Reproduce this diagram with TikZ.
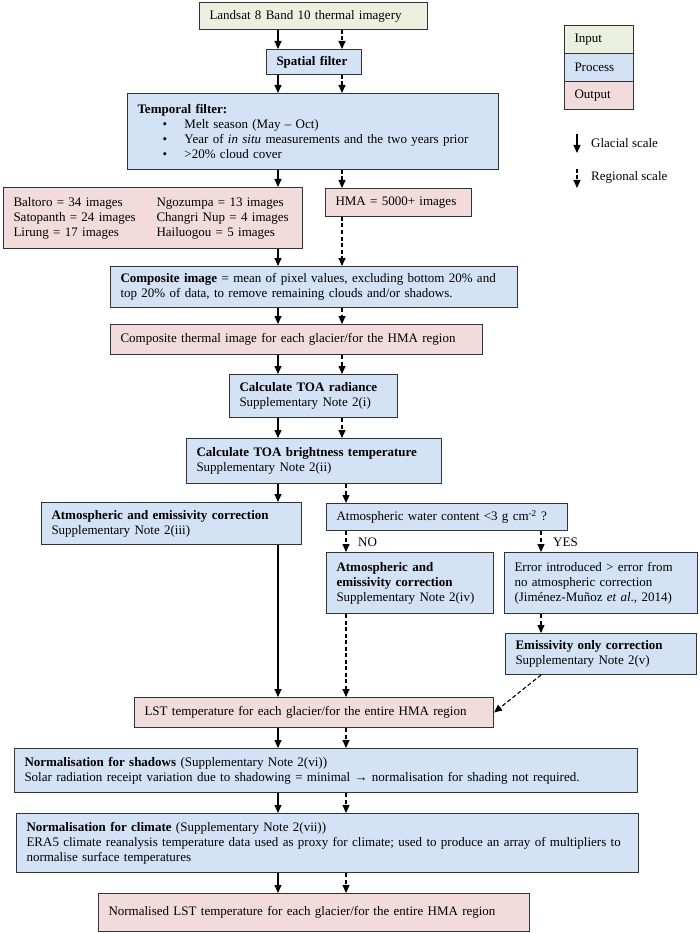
\documentclass[tikz,border=0pt]{standalone}
\usepackage{fontspec}
\setmainfont{Liberation Serif}
\usetikzlibrary{arrows.meta}
\definecolor{cin}{HTML}{EBF1DE}
\definecolor{cproc}{HTML}{D3E2F4}
\definecolor{cout}{HTML}{F2DCDB}
\definecolor{cedge}{HTML}{333333}
\tikzset{
  base/.style={draw=cedge, line width=1pt, anchor=north west, inner xsep=10pt, inner ysep=0pt,
    align=left, font=\fontsize{13}{15}\selectfont},
  inbox/.style={base, fill=cin},
  procbox/.style={base, fill=cproc},
  outbox/.style={base, fill=cout},
  sz/.style 2 args={minimum width=#1pt, minimum height=#2pt,
    /utils/exec={\pgfmathsetmacro\boxtw{#1-20}}, text width=\boxtw pt},
  lbl/.style={inner sep=0pt, anchor=west, font=\fontsize{13}{15}\selectfont},
  arr/.style={line width=1.1pt, -{Triangle[length=8pt,width=7pt]}},
  darr/.style={arr, dash pattern=on 4pt off 2.5pt},
}
\newcommand{\bul}{\hspace*{25pt}\makebox[22pt][l]{•}}
\newcommand{\colA}[1]{\makebox[143pt][l]{#1}}
\begin{document}
\begin{tikzpicture}[x=1pt,y=-1pt]
\useasboundingbox[fill=white] (0,0) rectangle (699,933);

% legend
\node[inbox, sz={69}{28}] (lin) at (564,25) {Input};
\node[procbox, sz={69}{28}] (lproc) at (564,53) {Process};
\node[outbox, sz={69}{28}] (lout) at (564,81) {Output};
\coordinate (g1) at (577,134); \coordinate (g2) at (577,153);
\coordinate (r1) at (577,169); \coordinate (r2) at (577,188);
\draw[arr] (g1) -- (g2);
\draw[darr] (r1) -- (r2);
\node[lbl] (glab) at (591,143) {Glacial scale};
\node[lbl] (rlab) at (591,177) {Regional scale};

% main boxes
\node[inbox, sz={228}{27}] (land) at (199,2) {Landsat 8 Band 10 thermal imagery};
\node[procbox, sz={95}{25}] (spatial) at (266,49) {\textbf{Spatial filter}};
\node[procbox, sz={371}{76}] (temporal) at (127,93) {\textbf{Temporal filter:}\\
\bul Melt season (May – Oct)\\
\bul Year of \textit{in situ} measurements and the two years prior\\
\bul >20\% cloud cover};
\node[outbox, sz={299}{61}] (balt) at (3,187) {\colA{Baltoro = 34 images}Ngozumpa = 13 images\\
\colA{Satopanth = 24 images}Changri Nup = 4 images\\
\colA{Lirung = 17 images}Hailuogou = 5 images};
\node[outbox, sz={146}{28}] (hma) at (325,188) {HMA = 5000+ images};
\node[procbox, sz={407}{41}] (comp) at (110,266) {\textbf{Composite image} = mean of pixel values, excluding bottom 20\% and\\
top 20\% of data, to remove remaining clouds and/or shadows.};
\node[outbox, sz={372}{30}] (compth) at (110,324) {Composite thermal image for each glacier/for the HMA region};
\node[procbox, sz={168}{43}] (toarad) at (229,374) {\textbf{Calculate TOA radiance}\\Supplementary Note 2(i)};
\node[procbox, sz={255}{45}] (toabt) at (186,438) {\textbf{Calculate TOA brightness temperature}\\Supplementary Note 2(ii)};
\node[procbox, sz={260}{42}] (leftatm) at (41,502) {\textbf{Atmospheric and emissivity correction}\\Supplementary Note 2(iii)};
\node[procbox, sz={241}{27}] (water) at (326,503) {Atmospheric water content <3 g cm\textsuperscript{-2} ?};
\node[procbox, sz={167}{61}] (atmiv) at (326,552) {\textbf{Atmospheric and}\\\textbf{emissivity correction}\\Supplementary Note 2(iv)};
\node[procbox, sz={193}{61}] (err) at (504,552) {Error introduced > error from\\no atmospheric correction\\(Jiménez-Muñoz \textit{et al}., 2014)};
\node[procbox, sz={191}{41}] (emis) at (505,633) {\textbf{Emissivity only correction}\\Supplementary Note 2(v)};
\node[outbox, sz={359}{30}] (lst) at (134,697) {LST temperature for each glacier/for the entire HMA region};
\node[procbox, sz={623}{44}] (shadow) at (14,748) {\textbf{Normalisation for shadows} (Supplementary Note 2(vi))\\
Solar radiation receipt variation due to shadowing = minimal → normalisation for shading not required.};
\node[procbox, sz={622}{59}] (climate) at (16,813) {\textbf{Normalisation for climate} (Supplementary Note 2(vii))\\
ERA5 climate reanalysis temperature data used as proxy for climate; used to produce an array of multipliers to\\
normalise surface temperatures};
\node[outbox, sz={431}{38}] (final) at (98,893) {Normalised LST temperature for each glacier/for the entire HMA region};

\node[lbl] (no) at (358,542) {NO};
\node[lbl] (yes) at (553,542) {YES};

% connectors
\coordinate (cs) at (278,0);
\coordinate (cd) at (342,0);
\coordinate (ce) at (346,0);
\coordinate (cy) at (541,0);
\draw[arr] (cs |- land.south) -- (cs |- spatial.north);
\draw[darr] (cd |- land.south) -- (cd |- spatial.north);
\draw[arr] (cs |- spatial.south) -- (cs |- temporal.north);
\draw[darr] (cd |- spatial.south) -- (cd |- temporal.north);
\draw[arr] (cs |- temporal.south) -- (cs |- balt.north);
\draw[darr] (cd |- temporal.south) -- (cd |- hma.north);
\draw[arr] (cs |- balt.south) -- (cs |- comp.north);
\draw[darr] (cd |- hma.south) -- (cd |- comp.north);
\draw[arr] (cs |- comp.south) -- (cs |- compth.north);
\draw[darr] (cd |- comp.south) -- (cd |- compth.north);
\draw[arr] (cs |- compth.south) -- (cs |- toarad.north);
\draw[darr] (cd |- compth.south) -- (cd |- toarad.north);
\draw[arr] (cs |- toarad.south) -- (cs |- toabt.north);
\draw[darr] (cd |- toarad.south) -- (cd |- toabt.north);
\draw[arr] (cs |- toabt.south) -- (cs |- leftatm.north);
\draw[darr] (ce |- toabt.south) -- (ce |- water.north);
\draw[darr] (ce |- water.south) -- (ce |- atmiv.north);
\draw[darr] (cy |- water.south) -- (cy |- err.north);
\draw[darr] (cy |- err.south) -- (cy |- emis.north);
\draw[arr] (cs |- leftatm.south) -- (cs |- lst.north);
\draw[darr] (ce |- atmiv.south) -- (ce |- lst.north);
\draw[darr] (cy |- emis.south) -- (lst.east);
\draw[arr] (cs |- lst.south) -- (cs |- shadow.north);
\draw[darr] (ce |- lst.south) -- (ce |- shadow.north);
\draw[arr] (cs |- shadow.south) -- (cs |- climate.north);
\draw[darr] (ce |- shadow.south) -- (ce |- climate.north);
\draw[arr] (cs |- climate.south) -- (cs |- final.north);
\draw[darr] (ce |- climate.south) -- (ce |- final.north);
\end{tikzpicture}
\end{document}
